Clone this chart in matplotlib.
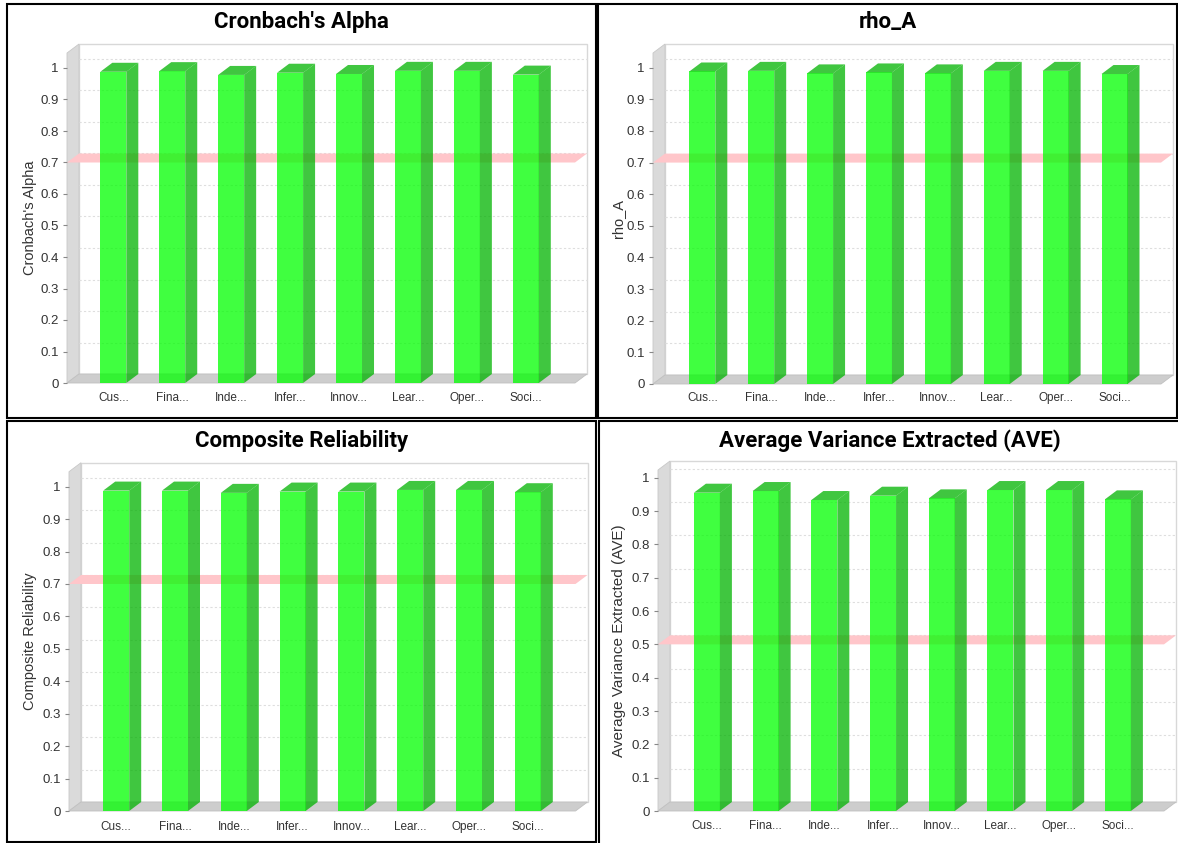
import numpy as np
import matplotlib
matplotlib.use("Agg")
import matplotlib.pyplot as plt
from matplotlib.patches import Polygon, Rectangle

W, H = 1178, 843

categories = ["Cus...", "Fina...", "Inde...", "Infer...", "Innov...", "Lear...", "Oper...", "Soci..."]
cronbach = [0.988, 0.990, 0.978, 0.985, 0.981, 0.991, 0.991, 0.979]
rho_a = [0.988, 0.990, 0.982, 0.985, 0.982, 0.990, 0.990, 0.980]
composite = [0.988, 0.988, 0.981, 0.985, 0.985, 0.990, 0.990, 0.983]
ave = [0.955, 0.960, 0.933, 0.946, 0.938, 0.963, 0.963, 0.935]

titles = ["Cronbach's Alpha", "rho_A", "Composite Reliability", "Average Variance Extracted (AVE)"]
thresholds = [0.7, 0.7, 0.7, 0.5]
yticks = np.round(np.arange(0, 1.01, 0.1), 1)
ytick_labels = ["0", "0.1", "0.2", "0.3", "0.4", "0.5", "0.6", "0.7", "0.8", "0.9", "1"]

# pixel geometry of each panel: front plane x0, x1, y of value 0, y of value 1,
# top of front plane, centre of first and last bar, border box
panels = [
    dict(x0=67, x1=575, y0=383, y1=68, top=53, c0=113.3, c7=525.8, box=(7, 4, 596, 418), ylx=30, cat_y=398, tit_y=22),
    dict(x0=653, x1=1161, y0=384, y1=67.7, top=53, c0=702.3, c7=1114.5, box=(598, 4, 1177, 418), ylx=618, cat_y=398, tit_y=22),
    dict(x0=69, x1=575.5, y0=811, y1=486.7, top=471.7, c0=116.2, c7=527.8, box=(7, 421, 596, 842), ylx=30, cat_y=827, tit_y=441),
    dict(x0=658, x1=1164, y0=811, y1=477.7, top=470, c0=706.9, c7=1117.9, box=(599, 421, 1180, 845), ylx=619, cat_y=826, tit_y=441),
]
series = [cronbach, rho_a, composite, ave]
ylabel_sizes = [10.5, 10.5, 10.5, 11]

DX, DY = 12, 9          # 3d depth offset in pixels
BAR_PX = 26             # front face width in pixels
front_c = (0.0, 1.0, 0.0)
side_c = (0.0, 0.70, 0.0)
alpha = 0.75

plt.rcParams['font.family'] = ['Liberation Sans', 'DejaVu Sans']
fig = plt.figure(figsize=(W / 100, H / 100), dpi=100)
fig.patch.set_facecolor("white")

for p, vals, title, thr, yls in zip(panels, series, titles, thresholds, ylabel_sizes):
    s = (p["c7"] - p["c0"]) / 7.0
    xmin = -(p["c0"] - p["x0"]) / s
    xmax = 7 + (p["x1"] - p["c7"]) / s
    ppu = p["y0"] - p["y1"]
    ymax = (p["y0"] - p["top"]) / ppu
    ax = fig.add_axes([p["x0"] / W, 1 - p["y0"] / H, (p["x1"] - p["x0"]) / W, (p["y0"] - p["top"]) / H])
    ax.set_xlim(xmin, xmax)
    ax.set_ylim(0, ymax)
    ax.patch.set_visible(False)
    for sp in ax.spines.values():
        sp.set_visible(False)
    dx = DX / s
    dy = DY / ppu
    w = BAR_PX / s

    # back wall
    ax.add_patch(Rectangle((xmin + dx, dy), xmax - xmin, ymax, facecolor="white",
                           edgecolor="#d8d8d8", lw=1, clip_on=False, zorder=0))
    # left wall
    ax.add_patch(Polygon([(xmin, 0), (xmin + dx, dy), (xmin + dx, ymax + dy), (xmin, ymax)],
                         closed=True, facecolor="#dadada", edgecolor="#c8c8c8", lw=0.6, clip_on=False, zorder=1))
    # floor
    ax.add_patch(Polygon([(xmin, 0), (xmax, 0), (xmax + dx, dy), (xmin + dx, dy)],
                         closed=True, facecolor="#cdcdcd", edgecolor="#c0c0c0", lw=0.6, clip_on=False, zorder=1))
    # gridlines on back wall
    for v in yticks[1:]:
        ax.plot([xmin + dx, xmax + dx], [v + dy, v + dy], color="#dedede", lw=0.8,
                ls=(0, (2, 2)), clip_on=False, zorder=1.5)
    # threshold marker band
    ax.add_patch(Polygon([(xmin, thr), (xmax, thr), (xmax + dx, thr + dy), (xmin + dx, thr + dy)],
                         closed=True, facecolor="#ffc6ca", edgecolor="none", clip_on=False, zorder=2))
    # bars
    for i, v in enumerate(vals):
        l, r = i - w / 2, i + w / 2
        ax.add_patch(Rectangle((l, 0), w, v, facecolor=front_c, alpha=alpha, edgecolor="none", clip_on=False, zorder=3))
        ax.add_patch(Polygon([(r, 0), (r + dx, dy), (r + dx, v + dy), (r, v)], closed=True,
                             facecolor=side_c, alpha=alpha, edgecolor="none", clip_on=False, zorder=3))
        ax.add_patch(Polygon([(l, v), (r, v), (r + dx, v + dy), (l + dx, v + dy)], closed=True,
                             facecolor=side_c, alpha=alpha, edgecolor="none", clip_on=False, zorder=3))

    ax.set_yticks(yticks)
    ax.set_yticklabels(ytick_labels)
    ax.tick_params(axis="y", length=3, width=0.8, color="#888888", labelcolor="#333333", labelsize=9.5, pad=3)
    ax.set_xticks(range(len(categories)))
    ax.set_xticklabels([])
    ax.tick_params(axis="x", length=0)
    for i, c in enumerate(categories):
        fig.text((p["c0"] + i * s) / W, 1 - p["cat_y"] / H, c, ha="center", va="center",
                 fontsize=8.5, color="#333333")
    fig.text(p["ylx"] / W, 1 - (p["y0"] + p["top"]) / 2 / H, title, rotation=90, ha="center",
             va="center", fontsize=yls, color="#333333")
    bx0, by0, bx1, by1 = p["box"]
    cx = (bx0 + bx1) / 2
    fig.text(cx / W, 1 - p["tit_y"] / H, title, ha="center", va="center", fontsize=16,
             fontweight="bold", family=["Roboto", "Liberation Sans", "DejaVu Sans"])
    fig.patches.append(Rectangle((bx0 / W, 1 - by1 / H), (bx1 - bx0) / W, (by1 - by0) / H,
                                 transform=fig.transFigure, fill=False, edgecolor="black", lw=1.5))

fig.savefig("out.png", dpi=100)
